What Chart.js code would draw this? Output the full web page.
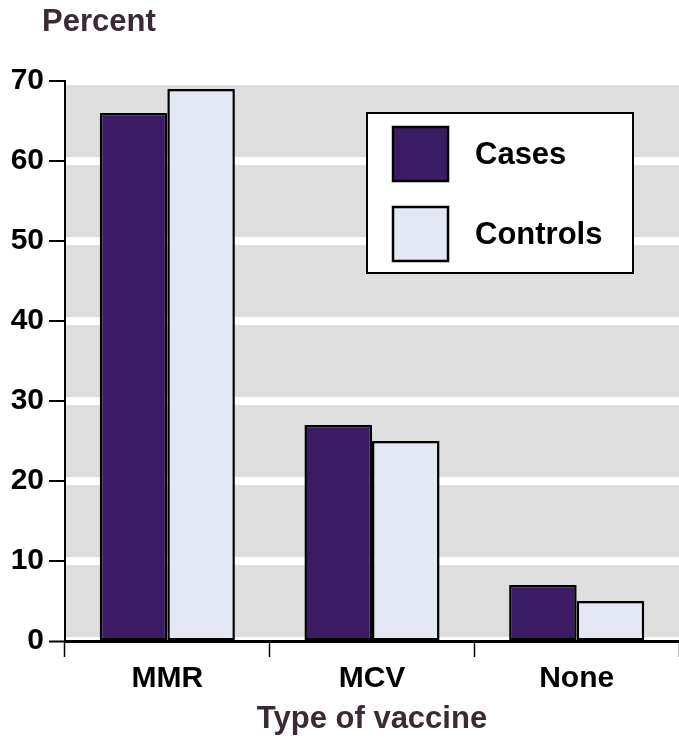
<!DOCTYPE html>
<html>
<head>
<meta charset="utf-8">
<script src="https://cdn.jsdelivr.net/npm/chart.js@4/dist/chart.umd.min.js"></script>
<style>
  html, body { margin: 0; padding: 0; background: #ffffff; }
  #wrap { width: 679px; height: 738px; position: relative; }
</style>
</head>
<body>
<div id="wrap"><canvas id="chart"></canvas></div>
<script>
// chart data
const categories = ['MMR', 'MCV', 'None'];
const casesValues = [66, 27, 7];
const controlsValues = [69, 25, 5];
const seriesLabels = ['Cases', 'Controls'];
const yTicks = [0, 10, 20, 30, 40, 50, 60, 70];

const COLOR_CASES = '#3b1b63';
const COLOR_CONTROLS = '#e4e8f4';
const COLOR_PLOT_BG = '#dedede';
const COLOR_TITLE = '#3a2a35';
const FONT = 'Liberation Sans, Arial, Helvetica, sans-serif';

// grey plot background, leaving a thin white strip above the zero line
const plotBackground = {
  id: 'plotBackground',
  beforeDraw(chart) {
    const { ctx, chartArea } = chart;
    ctx.save();
    ctx.fillStyle = COLOR_PLOT_BG;
    ctx.fillRect(chartArea.left, chartArea.top, chartArea.right - chartArea.left, chartArea.bottom - chartArea.top - 4);
    ctx.restore();
  }
};

// "Percent" label and the boxed legend
const annotations = {
  id: 'annotations',
  afterDraw(chart) {
    const { ctx } = chart;
    ctx.save();
    ctx.fillStyle = COLOR_TITLE;
    ctx.font = 'bold 31px ' + FONT;
    ctx.textBaseline = 'middle';
    ctx.textAlign = 'left';
    ctx.fillText('Percent', 42, 22);

    // legend box
    ctx.fillStyle = '#ffffff';
    ctx.fillRect(367, 113, 266, 160);
    ctx.strokeStyle = '#000000';
    ctx.lineWidth = 2;
    ctx.strokeRect(367, 113, 266, 160);

    const rows = [127, 207];
    chart.data.datasets.forEach((ds, i) => {
      ctx.fillStyle = ds.backgroundColor;
      ctx.fillRect(393, rows[i], 55, 54);
      ctx.lineWidth = 2.5;
      ctx.strokeStyle = '#000000';
      ctx.strokeRect(393, rows[i], 55, 54);
      ctx.fillStyle = '#000000';
      ctx.font = 'bold 31px ' + FONT;
      ctx.fillText(ds.label, 475, rows[i] + 28);
    });
    ctx.restore();
  }
};

new Chart(document.getElementById('chart'), {
  type: 'bar',
  data: {
    labels: categories,
    datasets: [
      {
        label: seriesLabels[0],
        data: casesValues,
        backgroundColor: COLOR_CASES,
        borderColor: '#000000',
        borderWidth: 2.5,
        borderSkipped: false
      },
      {
        label: seriesLabels[1],
        data: controlsValues,
        backgroundColor: COLOR_CONTROLS,
        borderColor: '#000000',
        borderWidth: 2.5,
        borderSkipped: false
      }
    ]
  },
  options: {
    responsive: true,
    maintainAspectRatio: false,
    animation: false,
    categoryPercentage: 0.66,
    barPercentage: 1,
    layout: { padding: { left: 0, right: 0, top: 81, bottom: 0 } },
    plugins: {
      legend: { display: false },
      tooltip: { enabled: false },
      title: { display: false }
    },
    scales: {
      x: {
        afterFit: (scale) => { scale.height = 97; },
        grid: {
          offset: true,
          drawOnChartArea: false,
          tickColor: '#000000',
          tickWidth: 1.5,
          tickLength: 16
        },
        border: { color: '#000000', width: 3 },
        ticks: {
          color: '#000000',
          padding: 4,
          font: { family: FONT, size: 30, weight: 'bold' }
        },
        title: {
          display: true,
          text: 'Type of vaccine',
          color: COLOR_TITLE,
          padding: { top: 0, bottom: 0 },
          font: { family: FONT, size: 31, weight: 'bold' }
        }
      },
      y: {
        min: 0,
        max: 70,
        afterFit: (scale) => { scale.width = 65; },
        afterBuildTicks: (scale) => { scale.ticks = yTicks.map(v => ({ value: v })); },
        grid: {
          color: '#ffffff',
          // zero line kept thin so bars sit on the axis
          lineWidth: (ctx) => (ctx.tick && ctx.tick.value === 0 ? 1 : 8),
          tickColor: '#000000',
          tickWidth: 2,
          tickLength: 16
        },
        border: { color: '#000000', width: 2 },
        ticks: {
          color: '#000000',
          padding: 5,
          font: { family: FONT, size: 30, weight: 'bold' }
        }
      }
    }
  },
  plugins: [plotBackground, annotations]
});
</script>
</body>
</html>
